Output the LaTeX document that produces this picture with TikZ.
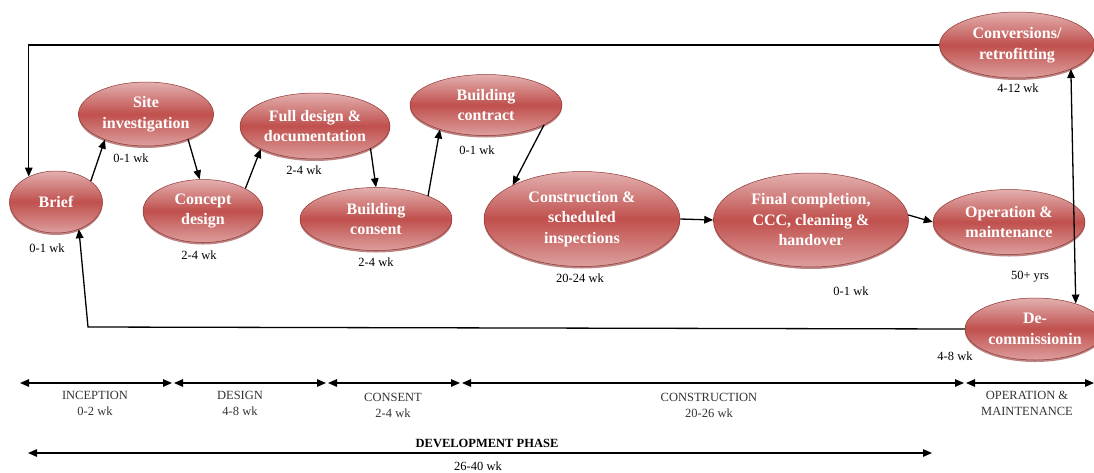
\documentclass[tikz,border=0pt]{standalone}
\usepackage{fontspec}
\setmainfont{Liberation Serif}
\usetikzlibrary{arrows.meta,shapes.geometric,shadows}
\definecolor{ellred}{HTML}{C0504D}
\definecolor{ellrim}{HTML}{8E3532}
\tikzset{
  stage/.style={shape=ellipse, draw=ellrim, line width=0.5pt, inner sep=0pt, align=center,
    top color=ellred!45!white, bottom color=ellred!55!white, middle color=ellred,
    text=white, font=\fontsize{16}{20.5}\selectfont\bfseries,
    drop shadow={shadow xshift=0pt, shadow yshift=-2pt, fill=ellrim, opacity=0.6}},
  wk/.style={font=\fontsize{12.5}{15}\selectfont},
  phase/.style={font=\fontsize{12.5}{16}\selectfont, text=black!80, align=center},
  flow/.style={line width=1.3pt, -{Triangle[length=9pt,width=7.5pt]}},
  span/.style={line width=1.3pt, {Triangle[length=9pt,width=7.5pt]}-{Triangle[length=9pt,width=7.5pt]}}
}
\begin{document}
\begin{tikzpicture}[x=1pt, y=-1pt]
     \path[use as bounding box, clip] (0,0) rectangle (1094,472);

     \node[stage, minimum width=93pt,  minimum height=62pt] (brief)    at (56,202)   {Brief};
     \node[stage, minimum width=135pt, minimum height=64pt] (site)     at (146,114)  {Site\\investigation};
     \node[stage, minimum width=120pt, minimum height=63pt] (concept)  at (203,211)  {Concept\\design};
     \node[stage, minimum width=150pt, minimum height=66pt] (fulldes)  at (315,126)  {Full design \&\\documentation};
     \node[stage, minimum width=152pt, minimum height=63pt] (consent)  at (376,219)  {Building\\consent};
     \node[stage, minimum width=152pt, minimum height=61pt] (contract) at (486,105)  {Building\\contract};
     \node[stage, minimum width=196pt, minimum height=95pt] (constr)   at (582,219)  {Construction \&\\scheduled\\inspections};
     \node[stage, minimum width=195pt, minimum height=94pt] (final)    at (811,220)  {Final completion,\\CCC, cleaning \&\\handover};
     \node[stage, minimum width=152pt, minimum height=65pt] (operat)   at (1009,222) {Operation \&\\maintenance};
     \node[stage, minimum width=155pt, minimum height=66pt] (conv)     at (1017,45)  {Conversions/\\retrofitting};
     \node[stage, minimum width=140pt, minimum height=62pt] (decom)    at (1035,329) {De-\\commissionin};

     \node[wk] (briefwk)    at (47,248)   {0-1 wk};
     \node[wk] (sitewk)     at (131,158)  {0-1 wk};
     \node[wk] (conceptwk)  at (199,255)  {2-4 wk};
     \node[wk] (fulldeswk)  at (304,170)  {2-4 wk};
     \node[wk] (consentwk)  at (376,262)  {2-4 wk};
     \node[wk] (contractwk) at (477,150)  {0-1 wk};
     \node[wk] (constrwk)   at (580,278)  {20-24 wk};
     \node[wk] (finalwk)    at (851,291)  {0-1 wk};
     \node[wk] (operatwk)   at (1030,277) {50+ yrs};
     \node[wk] (convwk)     at (1018,88)  {4-12 wk};
     \node[wk] (decomwk)    at (955,356)  {4-8 wk};

     \draw[flow] (brief.31) -- (site.-148);
     \draw[flow] (site.-31) -- (concept.96);
     \draw[flow] (concept.28) -- (fulldes.-157);
     \draw[flow] (fulldes.-22) -- (consent.north);
     \draw[flow] (consent.24) -- (contract.-152);
     \draw[flow] (contract.-19) -- (constr.154);
     \draw[flow] (constr.east) -- (final.west);
     \draw[flow] (final.3) -- (operat.west);
     \draw[span] (conv.-24) -- (decom.32);
     \draw[flow] (conv.west) -| (brief.137);
     \coordinate (back) at (88,327);
     \draw[flow] (decom.west) -- (back) -- (brief.-50);

     % phases along the bottom
     \coordinate (t0) at (20,383);
     \coordinate (t1) at (172,383);
     \coordinate (t2) at (174,383);
     \coordinate (t3) at (326,383);
     \coordinate (t4) at (328,383);
     \coordinate (t5) at (460,383);
     \coordinate (t6) at (462,383);
     \coordinate (t7) at (964,383);
     \coordinate (t8) at (966,383);
     \coordinate (t9) at (1094,383);
     \draw[span] (t0) -- (t1);
     \draw[span] (t2) -- (t3);
     \draw[span] (t4) -- (t5);
     \draw[span] (t6) -- (t7);
     \draw[span] (t8) -- (t9);

     \node[phase] (incep) at (95,403)   {INCEPTION\\0-2 wk};
     \node[phase] (desig) at (240,403)  {DESIGN\\4-8 wk};
     \node[phase] (conse) at (393,405)  {CONSENT\\2-4 wk};
     \node[phase] (const) at (709,405)  {CONSTRUCTION\\20-26 wk};
     \node[phase] (opera) at (1027,403) {OPERATION \&\\MAINTENANCE};

     \coordinate (d0) at (28,453);
     \coordinate (d1) at (932,453);
     \draw[span] (d0) -- (d1);
     \node[wk, font=\fontsize{12.5}{15}\selectfont\bfseries] (devel) at (487,443) {DEVELOPMENT PHASE};
     \node[wk] (develwk) at (478,466) {26-40 wk};
\end{tikzpicture}
\end{document}
